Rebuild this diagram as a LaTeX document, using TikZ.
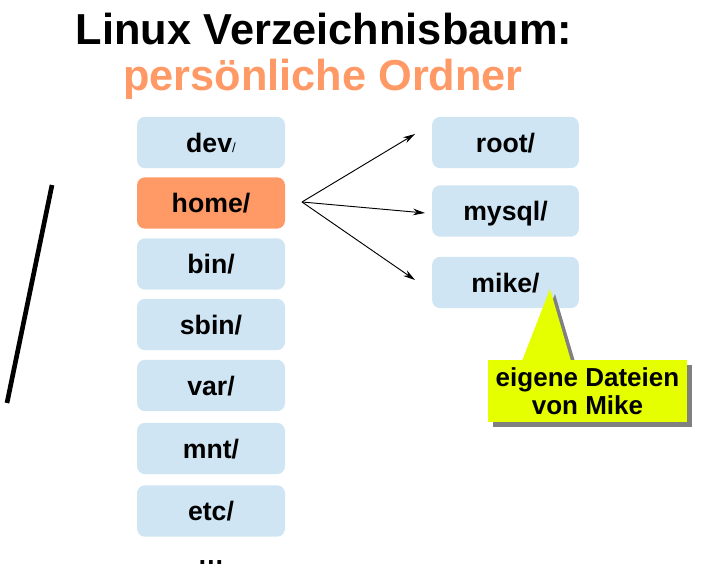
\documentclass[tikz,border=0pt]{standalone}
\usepackage{fontspec}
\setmainfont{Liberation Sans}
\usetikzlibrary{arrows.meta}
\definecolor{ordcol}{RGB}{255,153,102}
\definecolor{boxblue}{RGB}{207,229,243}
\definecolor{calloutyel}{RGB}{230,255,0}
\definecolor{shadowgray}{RGB}{128,128,128}
\tikzset{
  dirbox/.style={fill=boxblue, draw=none, rounded corners=6pt, inner sep=0pt,
    minimum width=111pt, minimum height=38.5pt,
    font=\fontsize{20}{24}\selectfont\bfseries, text height=14.3pt, text depth=0pt},
  homebox/.style={dirbox, fill=ordcol},
  conn/.style={-{Stealth[length=9pt,width=5pt]}, line width=0.7pt, black},
  titletext/.style={font=\fontsize{32.5}{38}\selectfont\bfseries, inner sep=0pt, anchor=base},
  callouttext/.style={font=\fontsize{19.5}{21}\selectfont\bfseries, align=center, inner sep=0pt}
}
\begin{document}
\begin{tikzpicture}[x=0.75pt,y=-0.75pt]
\useasboundingbox (0,0) rectangle (708,573);
% title
\node[titletext] (t1) at (324,45) {Linux Verzeichnisbaum:};
\node[titletext, text=ordcol] (t2) at (323,91) {persönliche Ordner};
% left line
\draw[line width=3.5pt] (52,185) -- (7,403);
% left column
\node[dirbox] (dev) at (211,142.5) {dev{\fontsize{10}{12}\selectfont\mdseries/}};
\node[homebox] (home) at (211,203) {home/};
\node[dirbox] (bin) at (211,264) {bin/};
\node[dirbox] (sbin) at (211,324.5) {sbin/};
\node[dirbox] (var) at (211,385.5) {var/};
\node[dirbox] (mnt) at (211,448.5) {mnt/};
\node[dirbox] (etc) at (211,511) {etc/};
\node[font=\fontsize{20}{24}\selectfont\bfseries, inner sep=0pt, anchor=base] (dots) at (211,565) {…};
% right column
\node[dirbox, minimum width=110pt] (root) at (505.5,142.5) {root/};
\node[dirbox, minimum width=110pt] (mysql) at (505.5,211) {mysql/};
\node[dirbox, minimum width=110pt] (mike) at (505.5,282.5) {mike/};
% arrows
\coordinate (src) at (302,202);
\coordinate (eroot) at (415,134);
\coordinate (emysql) at (425,213);
\coordinate (emike) at (415,280);
\draw[conn] (src) -- (eroot);
\draw[conn] (src) -- (emysql);
\draw[conn] (src) -- (emike);
% callout
\fill[shadowgray] (527,365) -- (555,294) -- (576,365) -- cycle;
\fill[shadowgray] (493,365) rectangle (692,427);
\fill[calloutyel] (522,361) -- (550,289) -- (571,361) -- cycle;
\fill[calloutyel] (488,360) rectangle (687,422);
\node[callouttext] (note) at (587.5,391) {eigene Dateien\\von Mike};
\end{tikzpicture}
\end{document}
